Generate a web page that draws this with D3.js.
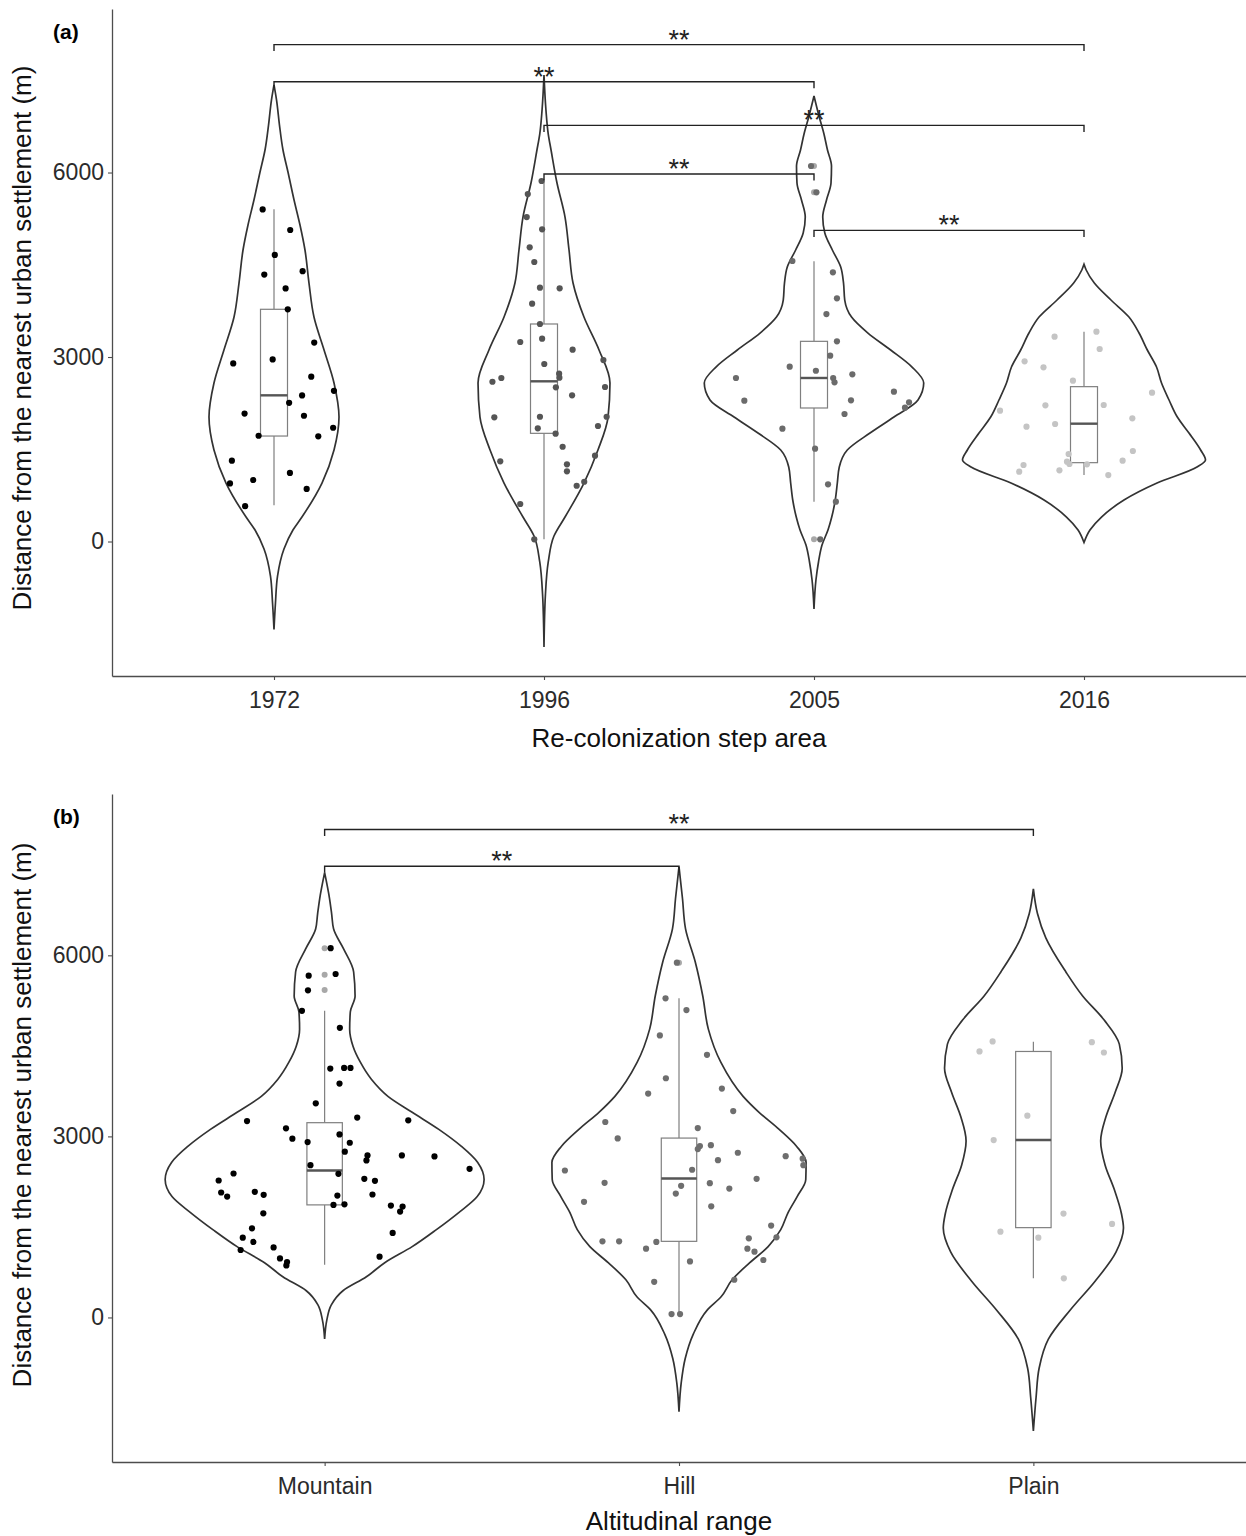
<!DOCTYPE html>
<html>
<head>
<meta charset="utf-8">
<script src="https://cdn.jsdelivr.net/npm/d3@7"></script>
<style>
  body { margin: 0; background: #fff; }
  text { font-family: 'Liberation Sans', Arial, sans-serif; }
</style>
</head>
<body>
<svg id="chart" width="1246" height="1536"></svg>
<script>
// ---- categories / ticks
const stepCats = ['1972', '1996', '2005', '2016']
const altCats = ['Mountain', 'Hill', 'Plain']
const yTicks = [0, 3000, 6000]
const yDomainA = [-2187, 8659]
const yDomainB = [-2395, 8673]

// ---- jittered points: [jitter (category units), distance m]
const pts1972 = [[-0.042,5400],[0.060,5065],[0.003,4660],[-0.036,4340],[0.106,4395],[0.043,4115],[0.051,3775],[0.149,3235],[-0.151,2895],[-0.005,2960],[0.138,2680],[0.222,2450],[0.104,2375],[0.056,2255],[-0.109,2080],[0.111,2045],[0.219,1850],[-0.057,1720],[0.164,1710],[-0.156,1315],[0.059,1115],[-0.077,1000],[-0.163,945],[0.121,855],[-0.107,575]]
const pts1996 = [[-0.009,5862],[-0.060,5650],[-0.064,5276],[-0.007,5076],[-0.053,4783],[-0.036,4545],[-0.015,4127],[0.058,4117],[-0.044,3867],[-0.015,3537],[-0.088,3244],[-0.007,3298],[0.106,3119],[0.220,2951],[0.001,2886],[-0.191,2598],[-0.158,2659],[0.056,2729],[0.057,2664],[0.226,2512],[0.044,2507],[0.104,2377],[-0.184,2019],[-0.015,2029],[0.232,2029],[0.200,1878],[-0.023,1840],[0.043,1753],[0.069,1541],[0.189,1395],[-0.162,1304],[0.085,1255],[0.085,1141],[0.149,972],[0.121,907],[-0.088,610],[-0.036,36]]
const pts2005 = [[-0.011,6106],[0.009,5678],[-0.080,4561],[0.070,4377],[0.085,3954],[0.046,3699],[0.085,3255],[0.060,3021],[-0.090,2843],[0.007,2777],[0.142,2719],[-0.289,2659],[0.071,2659],[0.076,2588],[0.296,2436],[-0.258,2290],[0.137,2296],[0.352,2263],[0.337,2176],[0.113,2073],[-0.117,1834],[0.004,1509],[0.052,930],[0.081,647],[0.023,36]]
const pts2016 = [[0.046,3412],[-0.109,3331],[0.058,3130],[-0.220,2930],[-0.150,2832],[-0.041,2615],[0.252,2420],[0.073,2220],[-0.143,2214],[-0.311,2127],[0.179,2003],[-0.107,1911],[-0.213,1867],[0.181,1472],[-0.057,1423],[0.143,1314],[-0.063,1298],[-0.224,1244],[-0.054,1260],[0.011,1255],[-0.091,1158],[-0.240,1135],[0.090,1081]]
const ptsMountain = [[0.017,6118],[-0.045,5663],[0.031,5691],[-0.047,5420],[-0.064,5081],[0.043,4799],[0.016,4124],[0.055,4135],[0.073,4135],[0.042,3875],[-0.025,3548],[0.092,3311],[-0.219,3254],[0.236,3266],[-0.109,3133],[-0.091,2962],[-0.048,2905],[0.042,3033],[0.071,2895],[0.057,2746],[0.121,2684],[0.118,2601],[0.218,2684],[0.310,2668],[0.409,2463],[-0.040,2523],[0.039,2380],[-0.257,2385],[-0.299,2269],[0.112,2297],[0.142,2264],[-0.292,2070],[-0.275,2003],[-0.197,2081],[-0.172,2031],[0.036,2020],[0.135,2037],[0.025,1865],[0.056,1875],[0.187,1854],[0.220,1837],[0.213,1754],[-0.173,1726],[-0.205,1477],[-0.231,1322],[0.192,1400],[-0.201,1251],[-0.237,1118],[-0.144,1161],[0.155,1007],[-0.126,978],[-0.106,919],[-0.108,862]]
const ptsHill = [[-0.006,5879],[-0.038,5287],[0.021,5093],[-0.054,4673],[0.079,4351],[-0.037,3963],[-0.087,3709],[0.121,3792],[0.153,3420],[-0.208,3238],[0.053,3138],[-0.173,2967],[0.059,2839],[0.053,2789],[0.090,2855],[0.166,2729],[0.110,2606],[0.301,2673],[0.349,2630],[0.351,2523],[-0.322,2435],[0.037,2447],[-0.210,2231],[0.087,2224],[0.219,2297],[0.006,2181],[-0.009,2053],[0.142,2136],[-0.268,1915],[0.091,1842],[0.260,1522],[0.275,1327],[-0.216,1261],[-0.169,1261],[-0.064,1251],[-0.093,1140],[0.197,1311],[0.193,1140],[0.213,1090],[0.238,952],[0.031,929],[-0.070,591],[0.156,625],[-0.021,56],[0.003,56]]
const ptsPlain = [[-0.115,4573],[-0.152,4407],[0.165,4561],[0.199,4390],[-0.017,3344],[-0.112,2939],[0.085,1721],[0.222,1550],[-0.093,1422],[0.014,1322],[0.086,648]]

// ---- violin density profiles: [distance m, relative density]
const vio1972 = [[7426,0],[7179,0.021],[6772,0.045],[6366,0.074],[6008,0.115],[5553,0.165],[5146,0.214],[4740,0.255],[4203,0.288],[3650,0.329],[3114,0.412],[2577,0.494],[2024,0.535],[1488,0.494],[951,0.395],[398,0.230],[187,0.156],[-122,0.082],[-561,0.029],[-1000,0.012],[-1431,0]]
const vio1996 = [[7585,0],[7016,0.016],[6626,0.035],[6366,0.058],[5829,0.107],[5276,0.173],[4740,0.206],[4203,0.239],[3650,0.329],[3114,0.453],[2577,0.543],[2024,0.527],[1488,0.444],[951,0.329],[398,0.173],[89,0.082],[-333,0.035],[-854,0.012],[-1715,0]]
const vio2005 = [[7244,0],[6919,0.041],[6626,0.082],[6366,0.111],[6106,0.144],[5829,0.140],[5553,0.103],[5276,0.072],[5016,0.089],[4740,0.151],[4463,0.220],[4203,0.243],[3927,0.253],[3650,0.309],[3390,0.444],[3114,0.631],[2837,0.807],[2577,0.903],[2301,0.856],[2024,0.658],[1764,0.461],[1488,0.274],[1211,0.208],[951,0.192],[675,0.175],[398,0.146],[187,0.115],[-57,0.066],[-333,0.037],[-626,0.016],[-1098,0]]
const vio2016 = [[4507,0],[4415,0.018],[4203,0.085],[3927,0.222],[3650,0.370],[3390,0.453],[3114,0.521],[2837,0.597],[2577,0.638],[2301,0.700],[2024,0.768],[1764,0.864],[1488,0.960],[1325,1.0],[1211,0.930],[951,0.601],[675,0.329],[398,0.144],[187,0.049],[-15,0]]
const vioMountain = [[7369,0],[6937,0.031],[6688,0.044],[6439,0.056],[6106,0.119],[5724,0.182],[5326,0.191],[5060,0.161],[4777,0.157],[4495,0.178],[4229,0.224],[3947,0.293],[3664,0.397],[3399,0.549],[3116,0.716],[2834,0.858],[2568,0.960],[2286,1.0],[2003,0.957],[1738,0.841],[1455,0.701],[1173,0.549],[907,0.377],[674,0.262],[442,0.115],[209,0.042],[-40,0.014],[-355,0]]
const vioHill = [[7468,0],[6937,0.022],[6439,0.041],[5890,0.102],[5326,0.149],[4777,0.184],[4229,0.262],[3664,0.402],[3399,0.502],[3116,0.628],[2834,0.738],[2568,0.797],[2286,0.795],[2003,0.741],[1738,0.684],[1455,0.638],[1173,0.559],[907,0.444],[624,0.333],[342,0.264],[126,0.178],[-281,0.089],[-681,0.039],[-1081,0.014],[-1561,0]]
const vioPlain = [[7103,0],[6688,0.026],[6289,0.078],[5724,0.204],[5326,0.309],[4927,0.444],[4528,0.539],[4130,0.557],[3731,0.513],[3324,0.455],[2924,0.422],[2523,0.450],[2123,0.507],[1723,0.552],[1482,0.565],[1081,0.518],[601,0.387],[120,0.230],[-360,0.094],[-841,0.036],[-1322,0.017],[-1882,0]]

// ---- boxplots: [lower whisker, Q1, median, Q3, upper whisker]
const box1972 = [588, 1715, 2377, 3776, 5402]
const box1996 = [36, 1759, 2605, 3537, 5862]
const box2005 = [647, 2171, 2659, 3255, 4556]
const box2016 = [1081, 1282, 1916, 2518, 3412]
const boxMountain = [874, 1865, 2435, 3227, 5081]
const boxHill = [56, 1261, 2302, 2972, 5287]
const boxPlain = [648, 1488, 2939, 4407, 4567]

const out2005 = [6106, 5678, 36]
const outMountain = [6118, 5680, 5425]
const outHill = [5879]

// ---- significance brackets: [from, to, height m]
const bracketsA = [['1972','2016',8080],['1972','2005',7477],['1996','2016',6766],['1996','2005',5976],['2005','2016',5059]]
const bracketsB = [['Mountain','Plain',8086],['Mountain','Hill',7476]]

const svg = d3.select('#chart')

function drawPanel(p) {
  const x = d3.scalePoint().domain(p.cats).range([112, 1246]).padding(0.6)
  const y = d3.scaleLinear().domain(p.yDomain).range([p.bottom, p.top])
  const step = x.step()
  const w = d3.scaleLinear().domain([0, 1]).range([0, 0.45 * step])
  const g = svg.append('g')

  p.cats.forEach((c, i) => {
    const cx = x(c)
    const area = d3.area()
      .curve(d3.curveMonotoneY)
      .y((d) => y(d[0]))
      .x0((d) => cx - w(d[1]))
      .x1((d) => cx + w(d[1]))
    g.append('path')
      .datum(p.violins[i])
      .attr('d', area)
      .attr('fill', '#fff')
      .attr('stroke', '#333')
      .attr('stroke-width', 1.7)

    // boxplot
    const b = p.boxes[i]
    const hw = 0.05 * step
    const bg = g.append('g').attr('stroke', '#7f7f7f').attr('stroke-width', 1.2)
    bg.append('line').attr('x1', cx).attr('x2', cx).attr('y1', y(b[4])).attr('y2', y(b[3]))
    bg.append('line').attr('x1', cx).attr('x2', cx).attr('y1', y(b[1])).attr('y2', y(b[0]))
    bg.append('rect')
      .attr('x', cx - hw).attr('width', 2 * hw)
      .attr('y', y(b[3])).attr('height', y(b[1]) - y(b[3]))
      .attr('fill', '#fff')
    bg.append('line')
      .attr('x1', cx - hw).attr('x2', cx + hw)
      .attr('y1', y(b[2])).attr('y2', y(b[2]))
      .attr('stroke', '#555').attr('stroke-width', 2.4)

    g.selectAll(null)
      .data(p.outliers[i])
      .enter()
      .append('circle')
      .attr('cx', cx)
      .attr('cy', (d) => y(d))
      .attr('r', 3)
      .attr('fill', '#a8a8a8')

    g.selectAll(null)
      .data(p.points[i])
      .enter()
      .append('circle')
      .attr('cx', (d) => cx + d[0] * step)
      .attr('cy', (d) => y(d[1]))
      .attr('r', 3.1)
      .attr('fill', p.colors[i])
  })

  // axes
  const ya = g.append('g')
    .attr('transform', 'translate(112,0)')
    .call(d3.axisLeft(y).tickValues(yTicks).tickFormat(d3.format('d'))
      .tickSize(4).tickSizeOuter(0).tickPadding(4))
  const xa = g.append('g')
    .attr('transform', `translate(0,${p.bottom})`)
    .call(d3.axisBottom(x).tickSize(4).tickSizeOuter(0).tickPadding(12))
  ;[ya, xa].forEach((a) => {
    a.select('.domain').attr('stroke', '#4d4d4d').attr('stroke-width', 1.3)
    a.selectAll('.tick line').attr('stroke', '#4d4d4d').attr('stroke-width', 1.1)
    a.selectAll('.tick text').attr('fill', '#2b2b2b').style('font-size', '23px')
      .style('font-family', "'Liberation Sans', Arial, sans-serif")
  })

  // brackets
  p.brackets.forEach((br) => {
    const x1 = x(br[0])
    const x2 = x(br[1])
    const yy = y(br[2])
    g.append('path')
      .attr('d', `M${x1},${yy + 6.5}V${yy}H${x2}V${yy + 6.5}`)
      .attr('fill', 'none')
      .attr('stroke', '#222')
      .attr('stroke-width', 1.4)
    g.append('text')
      .attr('x', (x1 + x2) / 2)
      .attr('y', yy + 4)
      .attr('text-anchor', 'middle')
      .style('font-size', '27px')
      .attr('fill', '#222')
      .text('**')
  })

  // titles
  g.append('text')
    .attr('x', 679)
    .attr('y', p.xTitleY)
    .attr('text-anchor', 'middle')
    .style('font-size', '26px')
    .attr('fill', '#111')
    .text(p.xTitle)
  g.append('text')
    .attr('transform', `translate(31,${p.yTitleY}) rotate(-90)`)
    .attr('text-anchor', 'middle')
    .style('font-size', '26px')
    .attr('fill', '#111')
    .text('Distance from the nearest urban settlement (m)')
  g.append('text')
    .attr('x', 53)
    .attr('y', p.top + 30)
    .style('font-size', '21px')
    .style('font-weight', 'bold')
    .text(p.tag)
}

drawPanel({
  cats: stepCats,
  yDomain: yDomainA,
  top: 9,
  bottom: 676,
  violins: [vio1972, vio1996, vio2005, vio2016],
  boxes: [box1972, box1996, box2005, box2016],
  outliers: [[], [], out2005, []],
  points: [pts1972, pts1996, pts2005, pts2016],
  colors: ['#000', '#555', '#6b6b6b', '#c4c4c4'],
  brackets: bracketsA,
  xTitle: 'Re-colonization step area',
  xTitleY: 747,
  yTitleY: 338,
  tag: '(a)'
})

drawPanel({
  cats: altCats,
  yDomain: yDomainB,
  top: 794,
  bottom: 1462,
  violins: [vioMountain, vioHill, vioPlain],
  boxes: [boxMountain, boxHill, boxPlain],
  outliers: [outMountain, outHill, []],
  points: [ptsMountain, ptsHill, ptsPlain],
  colors: ['#000', '#6e6e6e', '#c6c6c6'],
  brackets: bracketsB,
  xTitle: 'Altitudinal range',
  xTitleY: 1530,
  yTitleY: 1115,
  tag: '(b)'
})
</script>
</body>
</html>
